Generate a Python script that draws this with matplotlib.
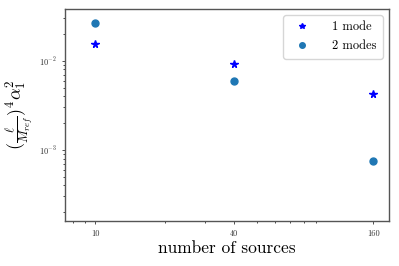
import numpy as np
import matplotlib
matplotlib.use("Agg")
import matplotlib.pyplot as plt
from matplotlib.ticker import FixedLocator, FixedFormatter, NullFormatter

plt.rcParams["font.family"] = "serif"
plt.rcParams["font.serif"] = ["cmr10", "DejaVu Serif"]
plt.rcParams["mathtext.fontset"] = "cm"
plt.rcParams["axes.formatter.use_mathtext"] = True

n_sources = [10, 40, 160]
one_mode = [0.0156, 0.0092, 0.0042]
two_modes = [0.0269, 0.0060, 0.00075]
xtick_labels = ["10", "40", "160"]

fig = plt.figure(figsize=(3.99, 2.66), dpi=100)
ax = fig.add_axes([0.163, 0.17, 0.812, 0.797])

ax.plot(n_sources, one_mode, "*", color="blue", ms=5.5, label="1 mode")
ax.plot(n_sources, two_modes, "o", color="tab:blue", ms=5, label="2 modes")

ax.set_xscale("log")
ax.set_yscale("log")
ax.set_xlim(7.4, 187)
ax.set_ylim(1.6e-4, 0.0384)

ax.xaxis.set_major_locator(FixedLocator(n_sources))
ax.xaxis.set_major_formatter(FixedFormatter(xtick_labels))
ax.xaxis.set_minor_formatter(NullFormatter())
ax.tick_params(labelsize=6, length=2.5, width=0.6, colors="#333333")
ax.tick_params(which="minor", length=1.5, width=0.5)

for s in ax.spines.values():
    s.set_color("#555555")
    s.set_linewidth(1.0)

ax.set_xlabel("number of sources", fontsize=12.5, labelpad=2)
ax.set_ylabel(r"$(\frac{\ell}{M_{ref}})^4\alpha_1^2$", fontsize=13, labelpad=2)

ax.legend(loc="upper right", fontsize=9, handletextpad=1.4, borderpad=0.5,
          labelspacing=0.55, markerscale=0.8, framealpha=0.8, edgecolor="#cccccc")

fig.savefig("out.png", dpi=100)
